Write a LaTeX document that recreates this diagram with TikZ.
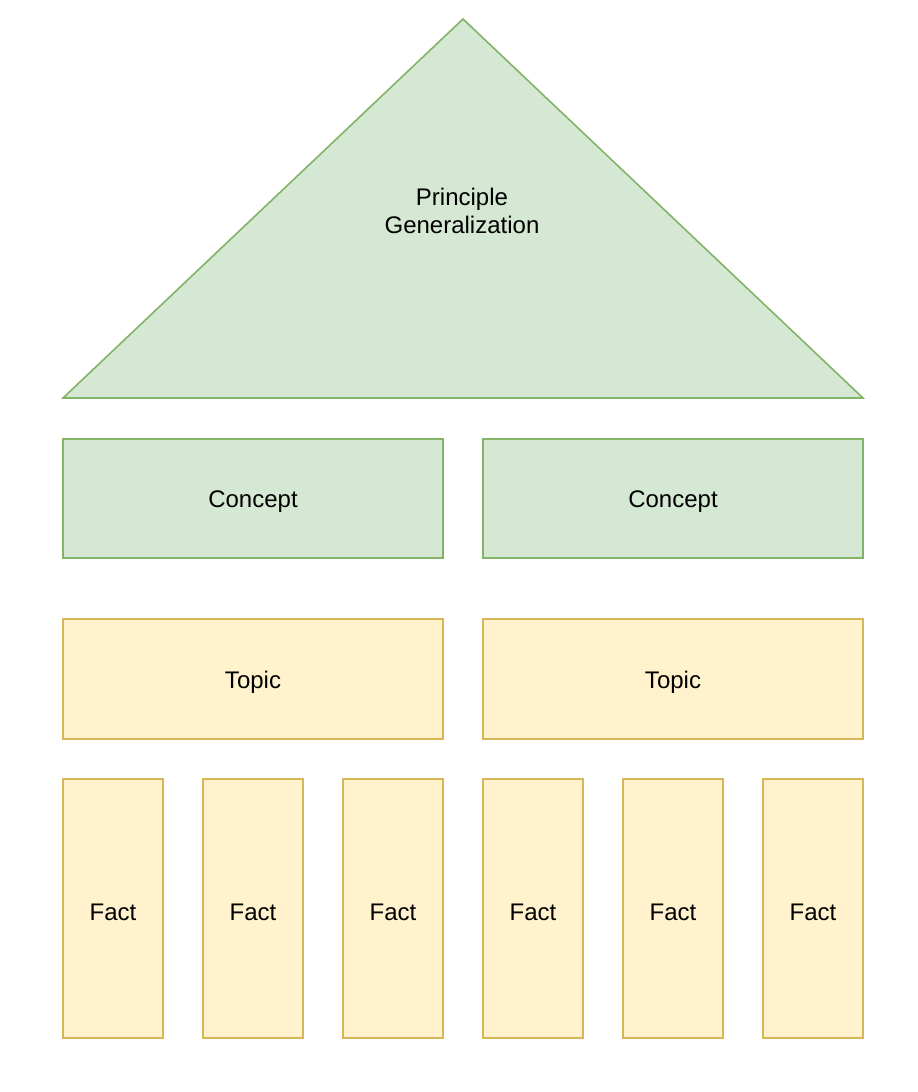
\documentclass[tikz,border=0pt]{standalone}
\usepackage{fontspec}
\setmainfont{Liberation Sans}
\definecolor{gfill}{HTML}{D5E8D4}
\definecolor{gline}{HTML}{82B366}
\definecolor{yfill}{HTML}{FFF2CC}
\definecolor{yline}{HTML}{D6B656}
\begin{document}
\begin{tikzpicture}[x=1pt,y=-1pt,
  gbox/.style={draw=gline,fill=gfill,line width=1.6pt},
  ybox/.style={draw=yline,fill=yfill,line width=1.6pt},
  lbl/.style={font=\fontsize{24}{27.5}\selectfont,align=center,inner sep=0pt}]
\useasboundingbox (0,0) rectangle (918,1092);
% triangle
\draw[gbox] (463,19) -- (863,398) -- (63,398) -- cycle;
\node[lbl] (principle) at (462,211) {Principle\\Generalization};
% concepts
\draw[gbox] (63,439) rectangle (443,558);
\node[lbl] (c1) at (253,502) {Concept};
\draw[gbox] (483,439) rectangle (863,558);
\node[lbl] (c2) at (673,502) {Concept};
% topics
\draw[ybox] (63,619) rectangle (443,739);
\node[lbl] (t1) at (253,682) {Topic};
\draw[ybox] (483,619) rectangle (863,739);
\node[lbl] (t2) at (673,682) {Topic};
% facts
\foreach \i/\x in {1/63,2/203,3/343,4/483,5/623,6/763}{
  \draw[ybox] (\x,779) rectangle ({\x+100},1038);
  \node[lbl] (f\i) at ({\x+50},912) {Fact};
}
\end{tikzpicture}
\end{document}
